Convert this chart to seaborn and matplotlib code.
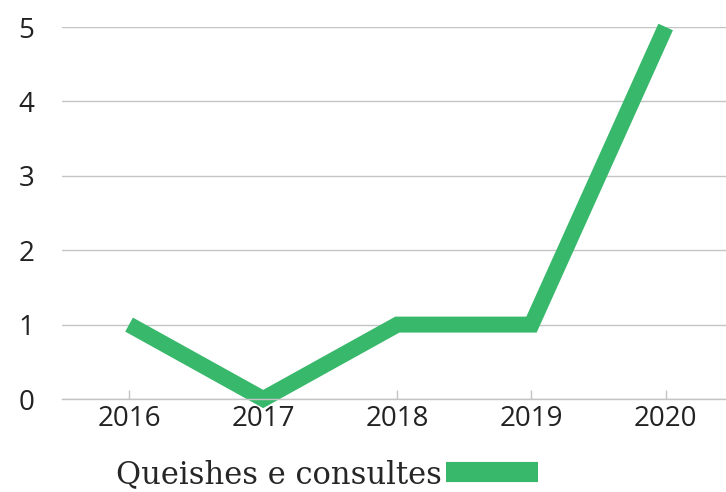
import numpy as np
import pandas as pd
import matplotlib
matplotlib.use("Agg")
import matplotlib.pyplot as plt
import seaborn as sns
from matplotlib.lines import Line2D

years = [2016, 2017, 2018, 2019, 2020]
counts = [1, 0, 1, 1, 5]
series = 'Queishes e consultes'
green = '#38b86b'
grey = '#c4c4c4'

df = pd.DataFrame({'year': years, 'count': counts})

sns.set_theme(style='white')
plt.rcParams['font.family'] = ['Open Sans', 'DejaVu Sans']

fig = plt.figure(figsize=(7.26, 4.92), dpi=100)
ax = fig.add_axes([62/726, 1 - 399/492, 1 - 62/726, (399 - 27)/492])

sns.lineplot(data=df, x='year', y='count', ax=ax, color=green, linewidth=11.5,
             solid_capstyle='butt', solid_joinstyle='miter', clip_on=False)

ax.set_xlim(2015.5, 2020.45)
ax.set_ylim(0, 5)
ax.set_xticks(years)
ax.set_yticks(range(0, 6))
ax.set_xlabel('')
ax.set_ylabel('')
ax.yaxis.grid(True, color=grey, linewidth=1)
ax.set_axisbelow(True)
for s in ['top', 'right', 'left']:
    ax.spines[s].set_visible(False)
ax.spines['bottom'].set_color(grey)
ax.spines['bottom'].set_linewidth(1)
ax.tick_params(axis='x', direction='in', length=6.5, width=1, color=grey,
               labelsize=20, labelcolor='#222222', pad=4, bottom=True)
ax.tick_params(axis='y', length=0, labelsize=20, labelcolor='#222222', pad=20)

h = Line2D([], [], color=green, linewidth=14.5, solid_capstyle='butt')
fig.legend([h], [series], loc='lower center', bbox_to_anchor=(0.45, -0.052),
           frameon=False, markerfirst=False, handlelength=3.0, handletextpad=0.15,
           prop={'family': 'DejaVu Serif', 'size': 22})

fig.savefig('out.png', dpi=100)
